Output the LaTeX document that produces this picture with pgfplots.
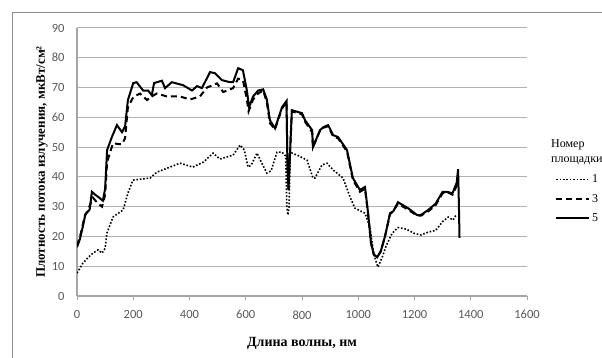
\documentclass[border=0pt]{standalone}
\usepackage{pgfplots}
\pgfplotsset{compat=1.18}
\usepackage{fontspec}
\setmainfont{Liberation Serif}
\newfontfamily\tickfont{Carlito}
\pgfplotstableread{
x y
0 7.7
21 11
40 13
57 14.4
75 15.5
89 14.4
100 16
106 21
128 26.5
153 28.2
164 28.9
181 34.6
199 38.9
230 39.3
260 39.6
284 41.6
331 43.3
366 44.6
412 43.3
450 45
484 48
508 46
555 47.3
580 50.7
595 49
608 43.3
620 44
640 48
655 45
675 41.3
690 42
711 48.3
729 48.3
742 47
746 30
750 27.2
754 30
758 47
764 48
790 47
818 45.6
839 39.6
846 39.6
871 44
889 44.6
911 42.3
946 39.6
971 33.2
988 29.5
1024 27.8
1042 23
1055 14
1070 9.7
1085 13
1100 17
1120 21
1141 23
1170 22.5
1200 21
1223 20.5
1250 21.5
1275 22
1300 25
1320 26.5
1337 25.5
1350 27.5
}\seriesA
\pgfplotstableread{
x y
0 17
11 20
28 27
36 28.2
57 33
75 31
89 30
100 34
107 45
128 51.3
150 51
160 51
171 53
181 63.4
200 66.8
224 68
249 65.8
265 67
284 68
320 67
366 67
402 66
437 67
462 70
498 71.4
520 68.5
555 69.8
573 73
590 72.5
604 66
610 62
626 66
644 68
662 69
675 65
686 58
704 56
729 63
745 65
748 45
752 36
756 45
764 62
800 61
811 58.5
836 55
839 50
864 55.5
876 56.5
893 57
911 53.5
928 53
960 48.5
981 39
1006 35
1024 36
1035 27.5
1045 18
1055 14
1067 13
1080 15
1095 20
1113 27.5
1125 28.5
1141 31
1177 29
1209 27
1223 27
1250 28.5
1275 30.5
1300 34.5
1315 35
1335 34
1350 37
1355 38
}\seriesB
\pgfplotstableread{
x y
0 16.4
10 19
20 23
30 27.5
45 29
53 35
65 34
75 33.3
92 32
100 36
107 49
124 53.4
142 57.4
160 55
171 57
181 65.8
200 71.5
212 71.8
235 69
253 69
266 67.4
274 71.5
302 72.3
313 69.8
337 71.8
377 70.8
409 69
427 70.5
444 69.8
473 75.2
491 74.8
515 72.5
544 71.8
555 71.8
573 76.5
590 75.8
604 69
612 63.4
626 67
644 69
662 69.4
675 66
686 59
704 56.3
729 63.4
745 65.5
748 45
752 35.6
756 45
764 62.4
800 61.4
811 59
836 55.7
839 50
864 55.7
876 56.7
893 57.4
911 54
928 53.4
960 49
981 39.6
1006 35.6
1024 36.6
1035 27.8
1045 18
1055 14
1067 13
1080 15
1095 20
1113 27.8
1125 28.5
1141 31.5
1177 29.5
1209 27.2
1223 27.2
1250 29
1275 31
1300 35
1315 35
1335 34.5
1350 38
1355 42.6
1358 30
1360 19.5
}\seriesC
\begin{document}
\begin{tikzpicture}[x=1pt,y=1pt]
\clip (0,0) rectangle (602,358);
\draw[black!45, line width=1pt] (12,-5) -- (12,345) -- (610,345);
\begin{axis}[
  at={(77pt,62pt)}, anchor=south west,
  scale only axis, width=450pt, height=268pt,
  xmin=0, xmax=1600, ymin=0, ymax=90,
  xtick={0,200,...,1600}, ytick={0,10,...,90},
  axis x line*=bottom, axis y line*=left,
  axis line style={black!35, line width=1.5pt, -},
  ymajorgrids, major grid style={black!30, line width=1pt},
  xtick style={black!35, line width=1pt}, tick align=outside, major tick length=4pt,
  ytick style={draw=none},
  tick label style={font=\tickfont\fontsize{12.5}{14}\selectfont, text=black!65},
  /pgf/number format/assume math mode=true,
  /pgf/number format/1000 sep={},
  xticklabel style={yshift=-7pt},
  yticklabel style={xshift=-5pt},
  xlabel={\bfseries Длина волны, нм},
  ylabel={\bfseries Плотность потока излучения, мкВт/см²},
  xlabel style={font=\fontsize{14}{16}\selectfont, at={([yshift=-47pt]axis description cs:0.5,0)}, anchor=center},
  ylabel style={font=\fontsize{13}{15}\selectfont, at={([xshift=-35pt]axis description cs:0,0.5)}, anchor=center},
  legend style={at={(1.062,0.46)}, anchor=north west, draw=none, fill=none,
    font=\fontsize{12}{14}\selectfont, row sep=6pt, inner sep=0pt},
  legend cell align=left,
  legend image code/.code={\draw[#1] (0pt,0pt) -- (33pt,0pt);},
]
\addplot[black, line width=1.6pt, dash pattern=on 1.6pt off 1.8pt] table[x=x,y=y] {\seriesA};
\addlegendentry{1}
\addplot[black, line width=2pt, dash pattern=on 6pt off 4pt] table[x=x,y=y] {\seriesB};
\addlegendentry{3}
\addplot[black, line width=2pt] table[x=x,y=y] {\seriesC};
\addlegendentry{5}
\end{axis}
\node[anchor=west, font=\fontsize{12}{14}\selectfont, inner sep=0pt] at (551,213) {Номер};
\node[anchor=west, font=\fontsize{12}{14}\selectfont, inner sep=0pt] at (551,197) {площадки};
\end{tikzpicture}
\end{document}
